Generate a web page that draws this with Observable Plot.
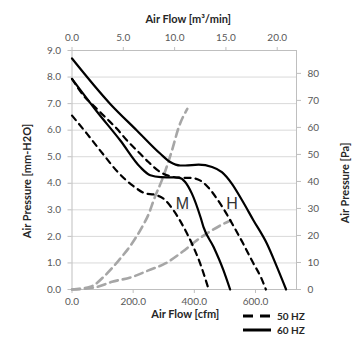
<!DOCTYPE html>
<html><head><meta charset="utf-8">
<script src="https://cdn.jsdelivr.net/npm/d3@7"></script>
<script src="https://cdn.jsdelivr.net/npm/@observablehq/plot@0.6"></script>
<style>
body{margin:0;background:#fff;}
#chart{position:relative;width:355px;height:355px;font-family:Lato,"Open Sans",sans-serif;}
#legend{position:absolute;left:243px;top:309px;font-size:10px;font-weight:bold;color:#262626;}
#legend div{height:14px;display:flex;align-items:center;}
#legend svg{margin-right:6px;}
</style></head><body><div id="chart"></div>
<script>
// ---- data (Air Flow in cfm, Air Pressure in mm-H2O) ----
const h60Flow = [0, 125, 212, 289, 321, 354, 370, 414, 458, 490, 523, 556, 593, 637, 670, 700];
const h60Pres = [8.70, 6.99, 5.99, 5.11, 4.80, 4.67, 4.67, 4.70, 4.61, 4.42, 3.98, 3.36, 2.61, 1.73, 0.85, 0];

const h50Flow = [0, 38, 76, 114, 147, 180, 218, 250, 289, 320, 350, 390, 420, 445, 475, 500, 530, 560, 590, 620, 634];
const h50Pres = [7.93, 7.30, 6.86, 6.43, 6.05, 5.61, 5.17, 4.80, 4.42, 4.27, 4.21, 4.20, 4.10, 3.85, 3.40, 2.95, 2.35, 1.72, 1.05, 0.40, 0];

const m60Flow = [0, 80, 158, 223, 256, 290, 330, 348, 370, 392, 420, 430, 463, 495, 517];
const m60Pres = [7.93, 6.72, 5.61, 4.61, 4.30, 4.23, 4.22, 4.21, 4.05, 3.61, 2.73, 2.35, 1.60, 0.73, 0];

const m50Flow = [0, 50, 100, 150, 200, 240, 270, 298, 332, 365, 392, 419, 447];
const m50Pres = [6.55, 5.85, 5.12, 4.42, 3.90, 3.62, 3.57, 3.43, 2.98, 2.35, 1.73, 0.98, 0];

const sysMFlow = [0, 60, 109, 153, 196, 229, 251, 267, 300, 327, 349, 377];
const sysMPres = [0, 0.10, 0.54, 1.10, 1.73, 2.35, 2.85, 3.36, 4.30, 5.24, 6.11, 6.80];

const sysHFlow = [0, 76, 131, 196, 250, 305, 360, 409, 441, 485, 518];
const sysHPres = [0, 0.08, 0.29, 0.47, 0.72, 0.98, 1.41, 1.86, 2.11, 2.41, 2.60];

const curveLabels = ["M", "H"];
const curveLabelFlow = [361, 523];
const curveLabelPres = [3.24, 3.24];

const yTicks = [0, 1, 2, 3, 4, 5, 6, 7, 8, 9];          // mm-H2O
const xTicks = [0, 200, 400, 600];                       // cfm
const m3Ticks = [0, 5, 10, 15, 20];                      // m³/min
const paTicks = [0, 10, 20, 30, 40, 50, 60, 70, 80];     // Pa

const PA_PER_MM = 9.83;
const CFM_PER_M3 = 33.55;

function rows(name, flow, pres) { return flow.map((f, i) => ({curve: name, flow: f, pres: pres[i]})); }
const solid = [...rows("H60", h60Flow, h60Pres), ...rows("M60", m60Flow, m60Pres)];
const dashed = [...rows("H50", h50Flow, h50Pres), ...rows("M50", m50Flow, m50Pres)];
const system = [...rows("sysM", sysMFlow, sysMPres), ...rows("sysH", sysHFlow, sysHPres)];
const labels = curveLabels.map((t, i) => ({t, flow: curveLabelFlow[i], pres: curveLabelPres[i]}));

const tickCol = "#595959", lineCol = "#bfbfbf";

const chart = Plot.plot({
  width: 355, height: 355,
  marginLeft: 71.5, marginRight: 59, marginTop: 50, marginBottom: 66,
  style: {fontFamily: "Lato, 'Open Sans', sans-serif", fontSize: "10px", background: "#fff"},
  x: {domain: [0, 734]},
  y: {domain: [0, 9]},
  marks: [
    Plot.ruleY(yTicks.slice(1), {stroke: "#d9d9d9", strokeWidth: 1}),
    Plot.frame({stroke: lineCol}),
    Plot.axisY({anchor: "left", ticks: yTicks, tickFormat: d => d.toFixed(1), tickSize: 4, tickPadding: 7, stroke: lineCol, fill: tickCol, label: null}),
    Plot.axisY({anchor: "right", ticks: paTicks.map(p => p / PA_PER_MM), tickFormat: d => String(Math.round(d * PA_PER_MM)), tickSize: 4, tickPadding: 7, stroke: lineCol, fill: tickCol, label: null}),
    Plot.axisX({anchor: "bottom", ticks: xTicks, tickFormat: d => d.toFixed(1), tickSize: 4, tickPadding: 4, stroke: lineCol, fill: tickCol, label: null}),
    Plot.axisX({anchor: "top", ticks: m3Ticks.map(m => m * CFM_PER_M3), tickFormat: d => (d / CFM_PER_M3).toFixed(1), tickSize: 4, tickPadding: 6, stroke: lineCol, fill: tickCol, label: null}),
    Plot.line(system, {x: "flow", y: "pres", z: "curve", stroke: "#a6a6a6", strokeWidth: 2.6, strokeDasharray: "8,5", curve: "monotone-x"}),
    Plot.line(dashed, {x: "flow", y: "pres", z: "curve", stroke: "#000", strokeWidth: 2.2, strokeDasharray: "6,5", curve: "monotone-x"}),
    Plot.line(solid, {x: "flow", y: "pres", z: "curve", stroke: "#000", strokeWidth: 2.2, curve: "monotone-x"}),
    Plot.text(labels, {x: "flow", y: "pres", text: "t", fontSize: 16, fontFamily: "'Liberation Sans', Arial, sans-serif", fill: "#333"}),
    Plot.text(["Air Flow [m³/min]"], {text: d => d, frameAnchor: "top", dx: 4, dy: -35, fontWeight: "bold", fontSize: 11, fill: "#262626"}),
    Plot.text(["Air Flow [cfm]"], {text: d => d, frameAnchor: "bottom", dx: 1, dy: 28, fontWeight: "bold", fontSize: 11, fill: "#262626"}),
    Plot.text(["Air Pressure [mm-H2O]"], {text: d => d, frameAnchor: "left", textAnchor: "middle", rotate: -90, dx: -45, dy: 11, fontWeight: "bold", fontSize: 11, fill: "#262626"}),
    Plot.text(["Air Pressure [Pa]"], {text: d => d, frameAnchor: "right", textAnchor: "middle", rotate: -90, dx: 49, dy: 13, fontWeight: "bold", fontSize: 11, fill: "#262626"})
  ]
});
const root = document.getElementById("chart");
root.appendChild(chart);
const lg = document.createElement("div");
lg.id = "legend";
lg.innerHTML = '<div><svg width="28" height="6"><line x1="0" y1="3" x2="28" y2="3" stroke="#000" stroke-width="3" stroke-dasharray="10,7"/></svg>50 HZ</div>' +
               '<div><svg width="28" height="6"><line x1="0" y1="3" x2="28" y2="3" stroke="#000" stroke-width="3"/></svg>60 HZ</div>';
root.appendChild(lg);
</script></body></html>
